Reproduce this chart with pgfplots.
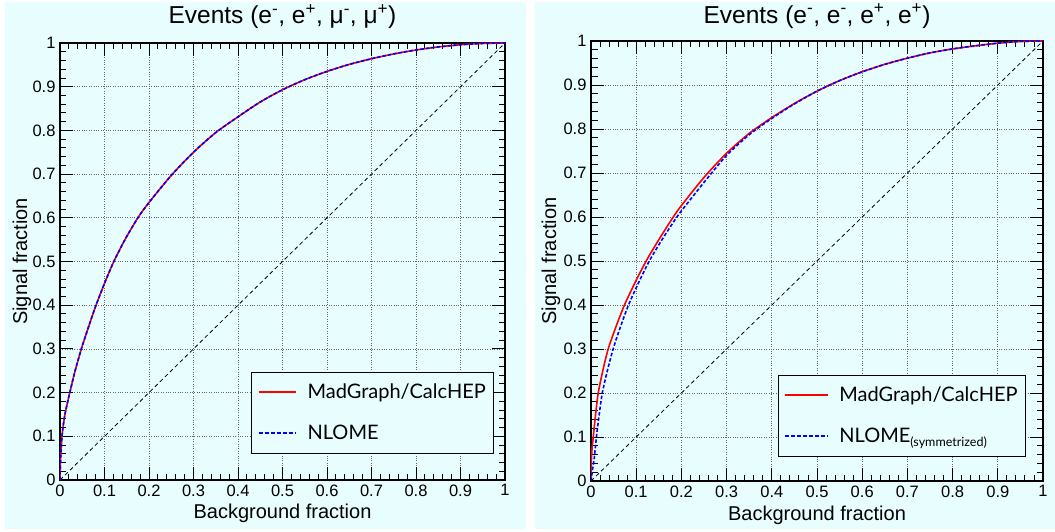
\documentclass[border=0pt]{standalone}
\usepackage{pgfplots}
\pgfplotsset{compat=1.18}
\usepackage{fontspec}
\setmainfont{Liberation Sans}
\newfontfamily\legfont{Lato}
\definecolor{bgc}{RGB}{232,254,254}

\pgfplotstableread{
x y
0 0
0.001 0.04
0.0025 0.07
0.0045 0.1
0.008 0.13
0.012 0.155
0.022 0.2
0.034 0.25
0.048 0.3
0.064 0.35
0.081 0.4
0.1 0.45
0.121 0.5
0.146 0.55
0.175 0.6
0.2 0.635
0.25 0.697
0.3 0.750
0.35 0.795
0.4 0.831
0.45 0.865
0.5 0.893
0.55 0.916
0.6 0.935
0.65 0.951
0.7 0.964
0.75 0.975
0.8 0.984
0.85 0.991
0.9 0.996
0.95 0.999
1 1
}\leftred

\pgfplotstableread{
x y
0 0
0.0007 0.04
0.002 0.07
0.005 0.1
0.01 0.15
0.016 0.2
0.026 0.25
0.038 0.3
0.055 0.35
0.074 0.4
0.097 0.45
0.122 0.5
0.151 0.55
0.182 0.6
0.2 0.626
0.25 0.69
0.3 0.745
0.35 0.79
0.4 0.826
0.45 0.858
0.5 0.886
0.55 0.91
0.6 0.93
0.65 0.947
0.7 0.961
0.75 0.973
0.8 0.982
0.85 0.989
0.9 0.995
0.95 0.999
1 1
}\rightred

\pgfplotstableread{
x y
0 0
0.004 0.03
0.007 0.05
0.012 0.1
0.018 0.15
0.025 0.2
0.036 0.25
0.049 0.3
0.065 0.35
0.083 0.4
0.105 0.45
0.129 0.5
0.158 0.55
0.19 0.6
0.21 0.627
0.255 0.685
0.3 0.74
0.35 0.787
0.4 0.824
0.45 0.857
0.5 0.886
0.55 0.91
0.6 0.93
0.65 0.947
0.7 0.961
0.75 0.973
0.8 0.982
0.85 0.989
0.9 0.995
0.95 0.999
1 1
}\rightblue

\pgfplotstableread{
x y
0 0
1 1
}\diag

\pgfplotsset{
  rootstyle/.style={
    scale only axis,
    xmin=0, xmax=1, ymin=0, ymax=1,
    xtick={0,0.1,0.2,0.3,0.4,0.5,0.6,0.7,0.8,0.9,1},
    ytick={0,0.1,0.2,0.3,0.4,0.5,0.6,0.7,0.8,0.9,1},
    xticklabels={0,0.1,0.2,0.3,0.4,0.5,0.6,0.7,0.8,0.9,1},
    yticklabels={0,0.1,0.2,0.3,0.4,0.5,0.6,0.7,0.8,0.9,1},
    minor tick num=4,
    tick align=inside,
    tick pos=both,
    major tick length=13pt,
    minor tick length=6.5pt,
    every tick/.style={black, line width=0.9pt},
    grid=major,
    major grid style={black!60, dotted, line width=0.8pt},
    axis line style={line width=1.1pt},
    ticklabel style={font=\fontsize{16.5}{16.5}\selectfont},
    xticklabel style={yshift=-1pt},
    yticklabel style={xshift=-1pt},
    /pgf/number format/assume math mode=true,
    axis background/.style={fill=bgc},
    title style={font=\fontsize{24.5}{24.5}\selectfont, anchor=center},
    label style={font=\fontsize{20}{20}\selectfont},
    legend cell align=left,
    legend style={draw=black, line width=0.9pt, fill=bgc, anchor=south west,
      font=\legfont\fontsize{20}{22}\selectfont, row sep=21pt,
      inner xsep=6pt, inner ysep=10pt},
  },
  redl/.style={draw=red, color=red, line width=1.6pt, solid},
  bluel/.style={draw=blue, color=blue, line width=1.6pt, dash pattern=on 3.5pt off 2pt},
  bluelegend/.style={draw=blue, color=blue, line width=1.8pt, dash pattern=on 4pt off 2pt},
  diagl/.style={color=black, line width=0.8pt, dash pattern=on 4pt off 3pt},
}

\begin{document}
\begin{tikzpicture}[x=1pt,y=1pt]
\fill[white] (0,0) rectangle (1055,531);
\fill[bgc] (5,2) rectangle (526,529);
\fill[bgc] (535,2) rectangle (1055,529);

\begin{axis}[rootstyle,
  at={(60pt,51pt)}, anchor=south west,
  width=445pt, height=437pt,
  title={Events (e\textsuperscript{-}, e\textsuperscript{+}, μ\textsuperscript{-}, μ\textsuperscript{+})},
  title style={at={(axis description cs:0.5,1.046)}},
  xlabel={Background fraction},
  xlabel style={at={(axis description cs:0.5,-0.0755)}, anchor=center},
  ylabel={Signal fraction},
  ylabel style={at={(axis description cs:-0.0854,0.5)}, anchor=center},
  legend style={at={(axis description cs:0.43,0.06)}, column sep=9pt},
  legend image code/.code={\draw[#1] (0pt,0.3pt) -- (37pt,0.3pt);},
]
\addlegendimage{redl}
\addlegendentry{MadGraph/CalcHEP\hspace{1pt}}
\addlegendimage{bluelegend}
\addlegendentry{NLOME}
\addplot[diagl, forget plot] table[x=x,y=y] {\diag};
\addplot[redl, smooth, tension=0.45, forget plot] table[x=x,y=y] {\leftred};
\addplot[bluel, smooth, tension=0.45, forget plot] table[x=x,y=y] {\leftred};
\end{axis}

\begin{axis}[rootstyle,
  at={(591pt,50pt)}, anchor=south west,
  width=452pt, height=440pt,
  title={Events (e\textsuperscript{-}, e\textsuperscript{-}, e\textsuperscript{+}, e\textsuperscript{+})},
  title style={at={(axis description cs:0.5,1.043)}},
  xlabel={Background fraction},
  xlabel style={at={(axis description cs:0.5,-0.077)}, anchor=center},
  ylabel={Signal fraction},
  ylabel style={at={(axis description cs:-0.0885,0.5)}, anchor=center},
  legend style={at={(axis description cs:0.414,0.055)}, column sep=8pt},
  legend image code/.code={\draw[#1] (0pt,0pt) -- (43pt,0pt);},
]
\addlegendimage{redl}
\addlegendentry{MadGraph/CalcHEP\hspace{2pt}}
\addlegendimage{bluelegend}
\addlegendentry{NLOME\raisebox{-4pt}{\fontsize{12.5}{12.5}\selectfont(symmetrized)}}
\addplot[diagl, forget plot] table[x=x,y=y] {\diag};
\addplot[redl, smooth, tension=0.45, forget plot] table[x=x,y=y] {\rightred};
\addplot[bluel, smooth, tension=0.45, forget plot] table[x=x,y=y] {\rightblue};
\end{axis}

\pgfresetboundingbox
\path (0,0) rectangle (1055,531);
\end{tikzpicture}
\end{document}
